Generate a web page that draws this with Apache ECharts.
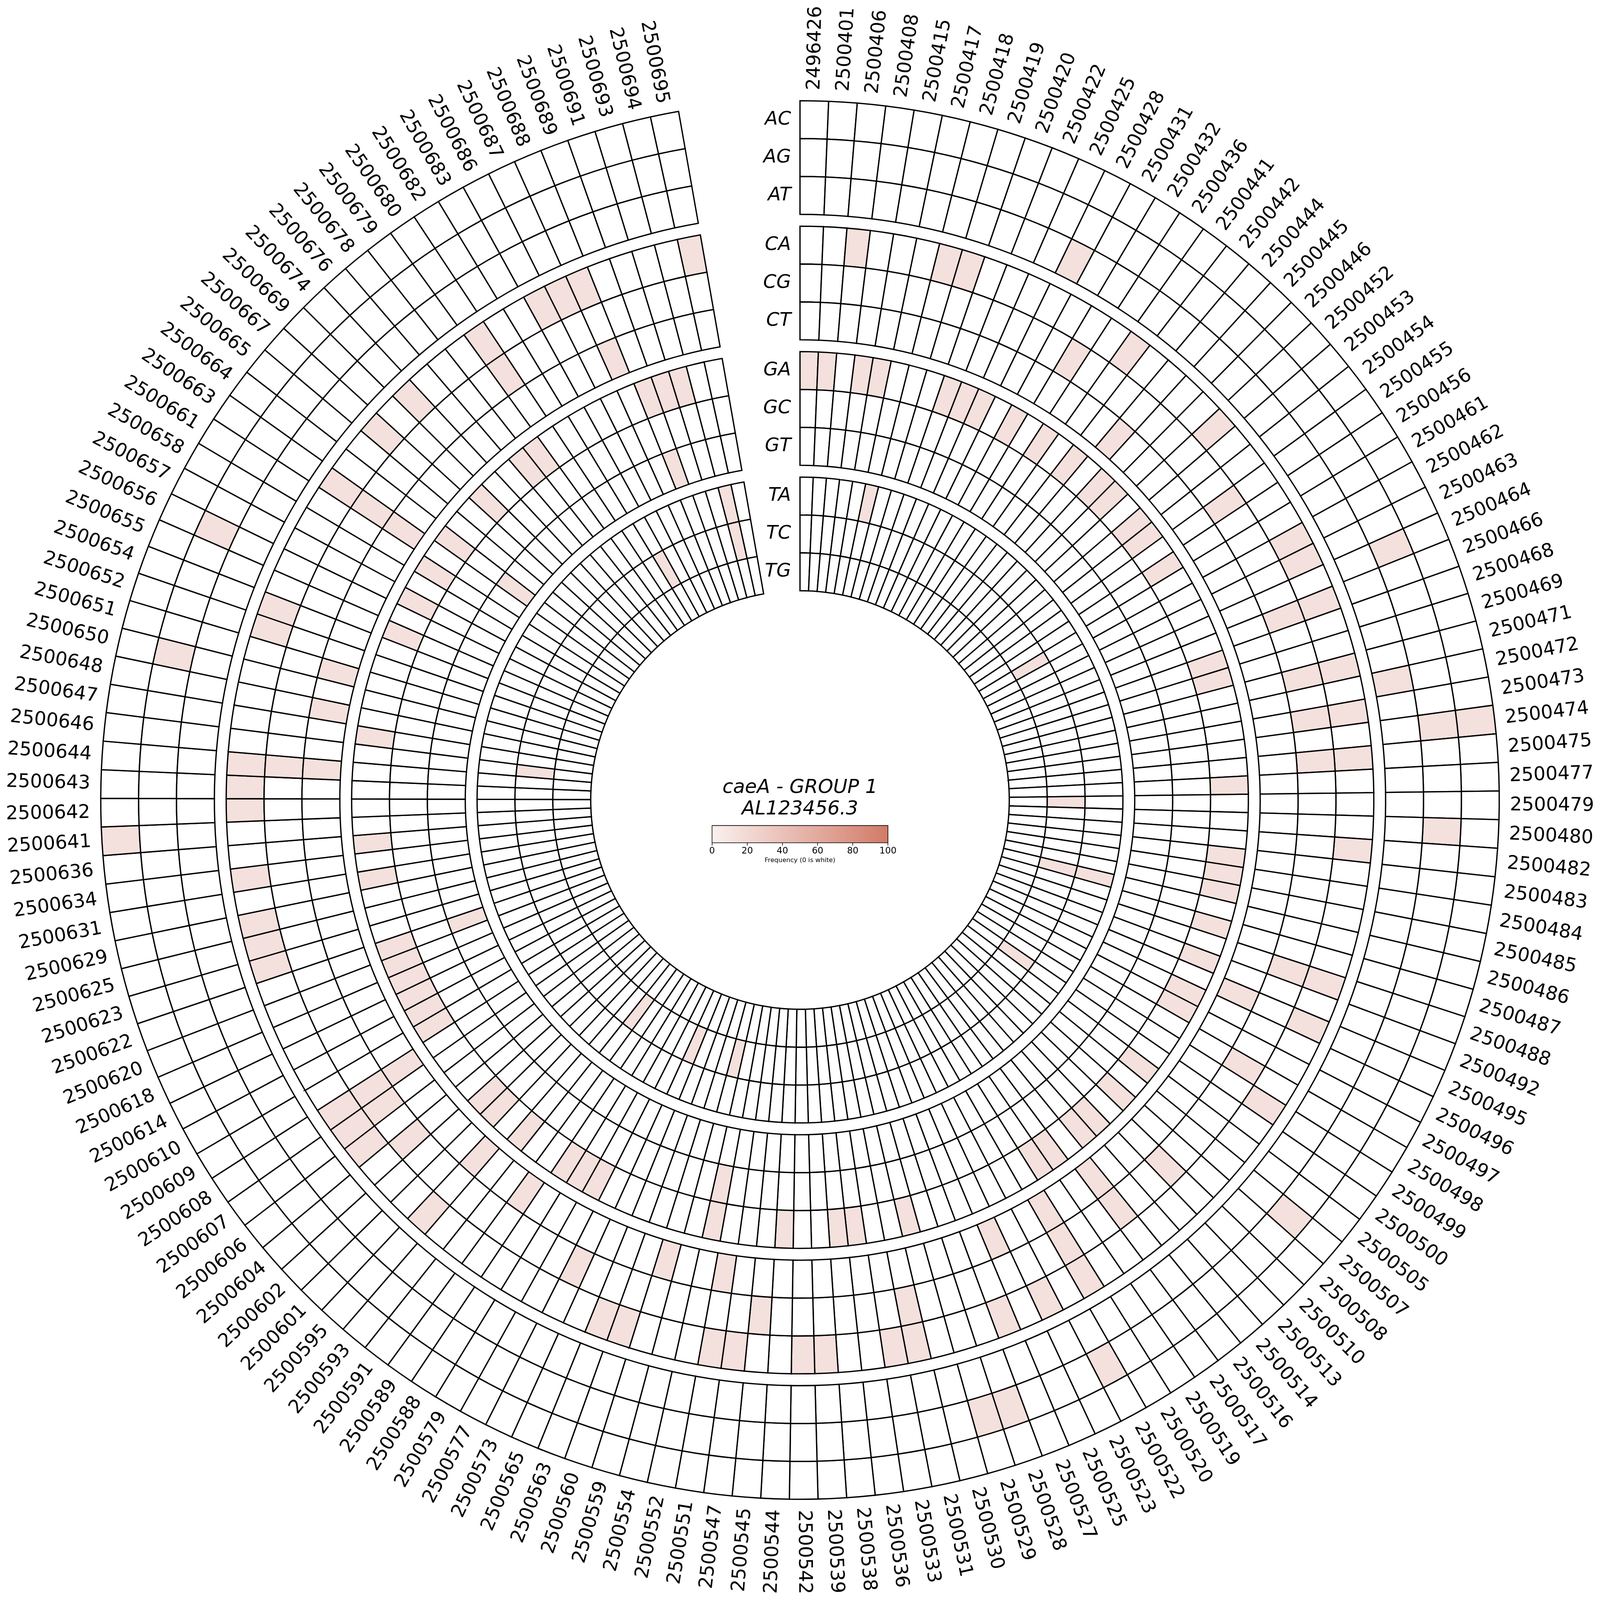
<!DOCTYPE html>
<html>
<head>
<meta charset="utf-8">
<script src="https://cdn.jsdelivr.net/npm/echarts@6/dist/echarts.min.js"></script>
<style>
html,body{margin:0;padding:0;background:#ffffff;overflow:hidden;}
#chart{width:100vw;height:100vh;}
</style>
</head>
<body>
<div id="chart"></div>
<script>
// ---------------- DATA ----------------
const positions = [
  2496426,2500401,2500406,2500408,2500415,2500417,2500418,2500419,2500420,2500422,
  2500425,2500428,2500431,2500432,2500436,2500441,2500442,2500444,2500445,2500446,
  2500452,2500453,2500454,2500455,2500456,2500461,2500462,2500463,2500464,2500466,
  2500468,2500469,2500471,2500472,2500473,2500474,2500475,2500477,2500479,2500480,
  2500482,2500483,2500484,2500485,2500486,2500487,2500488,2500492,2500495,2500496,
  2500497,2500498,2500499,2500500,2500505,2500507,2500508,2500510,2500513,2500514,
  2500516,2500517,2500519,2500520,2500522,2500523,2500525,2500527,2500528,2500529,
  2500530,2500531,2500533,2500536,2500538,2500539,2500542,2500544,2500545,2500547,
  2500551,2500552,2500554,2500559,2500560,2500563,2500565,2500573,2500577,2500579,
  2500588,2500589,2500591,2500593,2500595,2500601,2500602,2500604,2500606,2500607,
  2500608,2500609,2500610,2500614,2500618,2500620,2500622,2500623,2500625,2500629,
  2500631,2500634,2500636,2500641,2500642,2500643,2500644,2500646,2500647,2500648,
  2500650,2500651,2500652,2500654,2500655,2500656,2500657,2500658,2500661,2500663,
  2500664,2500665,2500667,2500669,2500674,2500676,2500678,2500679,2500680,2500682,
  2500683,2500686,2500687,2500688,2500689,2500691,2500693,2500694,2500695
];

// substitution rows, outermost ring first
const substitutions = ['AC','AG','AT','CA','CG','CT','GA','GC','GT','TA','TC','TG'];

// non-zero frequencies (%) : [position, frequency]; every other cell is 0 (white)
const freqAC = [[2500474,14],[2500641,14]];
const freqAG = [[2500464,14],[2500474,14],[2500480,14],[2500507,14],[2500522,14],[2500528,14],
  [2500529,14],[2500650,14],[2500656,14]];
const freqAT = [[2500428,14],[2500472,14]];
const freqCA = [[2500406,14],[2500418,14],[2500419,14],[2500441,14],[2500452,14],[2500462,14],
  [2500463,14],[2500466,14],[2500471,14],[2500473,14],[2500475,14],[2500482,14],[2500488,14],
  [2500495,14],[2500499,14],[2500520,14],[2500523,14],[2500527,14],[2500531,14],[2500533,14],
  [2500539,14],[2500542,14],[2500547,14],[2500551,14],[2500560,14],[2500563,14],[2500595,14],
  [2500606,14],[2500607,14],[2500608,14],[2500623,14],[2500625,14],[2500629,14],[2500634,14],
  [2500642,14],[2500643,14],[2500644,14],[2500652,14],[2500654,14],[2500663,14],[2500667,14],
  [2500674,14],[2500680,14],[2500686,14],[2500687,14],[2500688,14],[2500695,14]];
const freqCG = [[2500432,14],[2500455,14],[2500466,14],[2500471,14],[2500473,14],[2500475,14],
  [2500488,14],[2500498,14],[2500510,14],[2500516,14],[2500520,14],[2500531,14],[2500545,14],
  [2500573,14],[2500604,14],[2500607,14],[2500608,14],[2500644,14],[2500663,14],[2500680,14]];
const freqCT = [[2500444,14],[2500495,14],[2500516,14],[2500520,14],[2500525,14],[2500551,14],
  [2500559,14],[2500589,14],[2500595,14],[2500608,14],[2500644,14],[2500648,14],[2500651,14],
  [2500663,14],[2500688,14]];
const freqGA = [[2496426,14],[2500401,14],[2500408,14],[2500415,14],[2500420,14],[2500422,14],
  [2500425,14],[2500431,14],[2500436,14],[2500442,14],[2500445,14],[2500446,14],[2500453,14],
  [2500454,14],[2500456,14],[2500468,14],[2500469,14],[2500477,14],[2500483,14],[2500484,14],
  [2500485,14],[2500487,14],[2500492,14],[2500496,14],[2500497,14],[2500505,14],[2500508,14],
  [2500513,14],[2500514,14],[2500517,14],[2500519,14],[2500530,14],[2500536,14],[2500538,14],
  [2500544,14],[2500552,14],[2500577,14],[2500579,14],[2500588,14],[2500593,14],[2500601,14],
  [2500602,14],[2500609,14],[2500610,14],[2500614,14],[2500618,14],[2500620,14],[2500622,14],
  [2500631,14],[2500636,14],[2500647,14],[2500655,14],[2500657,14],[2500661,14],[2500664,14],
  [2500669,14],[2500678,14],[2500679,14],[2500689,14],[2500691,14],[2500693,14]];
const freqGC = [[2500552,14]];
const freqGT = [[2500622,14],[2500664,14],[2500689,14]];
const freqTA = [[2500417,14],[2500486,14],[2500694,14]];
const freqTC = [[2500461,14],[2500479,14],[2500486,14],[2500500,14],[2500554,14],[2500565,14],
  [2500591,14],[2500646,14],[2500683,14],[2500694,14]];
const freqTG = [];

const titleLine1 = 'caeA - GROUP 1';
const titleLine2 = 'AL123456.3';
const colorbarName = 'Frequency (0 is white)';
const colorbarMin = 0, colorbarMax = 100, colorbarStep = 20;

// ---------------- LAYOUT / STYLE ----------------
const FONT = 'DejaVu Sans';
const COLOR_LOW = '#faf1ef', COLOR_HIGH = '#d27a67';
const RING = 1, GROUP_GAP = 0.312, GROUP_SIZE = 3;
const nRings = substitutions.length;
const R_MAX = nRings * RING + (nRings / GROUP_SIZE - 1) * GROUP_GAP;
const GAP_DEG = 10;
const ANGLE_MAX = positions.length * 360 / (360 - GAP_DEG);
const LABEL_PAD = 0.281;

function ringInner(k) {              // k: 0 = outermost row
  const fromInside = nRings - 1 - k;
  return fromInside * RING + Math.floor(fromInside / GROUP_SIZE) * GROUP_GAP;
}

const freqBySub = {AC:freqAC, AG:freqAG, AT:freqAT, CA:freqCA, CG:freqCG, CT:freqCT,
                   GA:freqGA, GC:freqGC, GT:freqGT, TA:freqTA, TC:freqTC, TG:freqTG};
const cellData = [];
substitutions.forEach((s, k) => {
  const m = new Map(freqBySub[s]);
  positions.forEach((p, i) => cellData.push([k, i, m.get(p) || 0]));
});
const labelData = positions.map((p, i) => [R_MAX, i]);
const rowData = substitutions.map((s, k) => [ringInner(k) + RING / 2, 0, k]);

const chart = echarts.init(document.getElementById('chart'), null, {renderer: 'canvas'});
const W = chart.getWidth(), H = chart.getHeight();
const S = Math.min(W, H) / 6766;      // design drawn for a 6766 px square
const px = v => v * S;
const cx = W / 2, cy = H / 2;

chart.setOption({
  animation: false,
  backgroundColor: '#ffffff',
  title: {
    text: titleLine1 + '\n' + titleLine2,
    left: 'center', top: cy - px(97), padding: 0,
    textStyle: {fontFamily: FONT, fontSize: px(82), fontStyle: 'italic', fontWeight: 'normal',
                color: '#000', lineHeight: px(91)}
  },
  polar: {center: ['50%', '50%'], radius: [px(885), px(2957)]},
  angleAxis: {type: 'value', min: 0, max: ANGLE_MAX, startAngle: 90, clockwise: true, show: false},
  radiusAxis: {type: 'value', min: 0, max: R_MAX, show: false},
  grid: {left: cx - px(372), top: cy + px(108), width: px(744), height: px(73)},
  xAxis: {
    type: 'value', min: colorbarMin, max: colorbarMax, interval: colorbarStep,
    axisLine: {show: false}, splitLine: {show: false},
    axisTick: {show: true, length: px(12), lineStyle: {color: '#000', width: px(2.5)}},
    axisLabel: {fontFamily: FONT, fontSize: px(38), color: '#000', margin: px(16)},
    name: colorbarName, nameLocation: 'middle', nameGap: px(62),
    nameTextStyle: {fontFamily: FONT, fontSize: px(27), color: '#000'}
  },
  yAxis: {type: 'value', min: 0, max: 1, show: false},
  visualMap: {
    show: false, type: 'continuous', min: colorbarMin, max: colorbarMax,
    dimension: 2, seriesIndex: 0, inRange: {color: [COLOR_LOW, COLOR_HIGH]}
  },
  series: [
    {
      type: 'custom', coordinateSystem: 'polar', data: cellData,
      encode: {radius: 0, angle: 1},
      renderItem: function (params, api) {
        const k = api.value(0), i = api.value(1), v = api.value(2);
        const r0 = ringInner(k);
        const a = api.coord([r0, i]);
        const b = api.coord([r0 + RING, i + 1]);
        const s1 = -a[3], s2 = -b[3];
        return {
          type: 'sector',
          shape: {cx: params.coordSys.cx, cy: params.coordSys.cy, r0: a[2], r: b[2],
                  startAngle: Math.min(s1, s2), endAngle: Math.max(s1, s2), clockwise: true},
          style: {fill: v > 0 ? api.visual('color') : '#ffffff', stroke: '#000', lineWidth: px(5.5)}
        };
      }
    },
    {
      type: 'custom', coordinateSystem: 'polar', data: labelData,
      encode: {radius: 0, angle: 1}, silent: true,
      renderItem: function (params, api) {
        const i = api.value(1);
        const c = api.coord([R_MAX + LABEL_PAD, i + 0.5]);
        const phi = c[3];
        let theta = 90 - phi * 180 / Math.PI;
        theta = ((theta % 360) + 360) % 360;
        const left = theta > 180;
        return {
          type: 'text', x: c[0], y: c[1], rotation: left ? phi + Math.PI : phi,
          style: {text: String(positions[i]), fontFamily: FONT, fontSize: px(80), fill: '#000',
                  align: left ? 'right' : 'left', verticalAlign: 'middle'}
        };
      }
    },
    {
      type: 'custom', coordinateSystem: 'polar', data: rowData,
      encode: {radius: 0, angle: 1}, silent: true,
      renderItem: function (params, api) {
        const c = api.coord([api.value(0), api.value(1)]);
        return {
          type: 'text', x: c[0] - px(38), y: c[1],
          style: {text: substitutions[api.value(2)], fontFamily: FONT, fontSize: px(80),
                  fontStyle: 'italic', fill: '#000', align: 'right', verticalAlign: 'middle'}
        };
      }
    },
    {
      type: 'custom', coordinateSystem: 'cartesian2d', data: [[colorbarMin, 0, colorbarMax, 1]],
      silent: true,
      renderItem: function (params, api) {
        const p0 = api.coord([api.value(0), api.value(3)]);
        const p1 = api.coord([api.value(2), api.value(1)]);
        return {
          type: 'rect',
          shape: {x: p0[0], y: p0[1], width: p1[0] - p0[0], height: p1[1] - p0[1]},
          style: {
            fill: new echarts.graphic.LinearGradient(0, 0, 1, 0,
              [{offset: 0, color: COLOR_LOW}, {offset: 1, color: COLOR_HIGH}]),
            stroke: '#000', lineWidth: px(2.5)
          }
        };
      }
    }
  ]
});
</script>
</body>
</html>
